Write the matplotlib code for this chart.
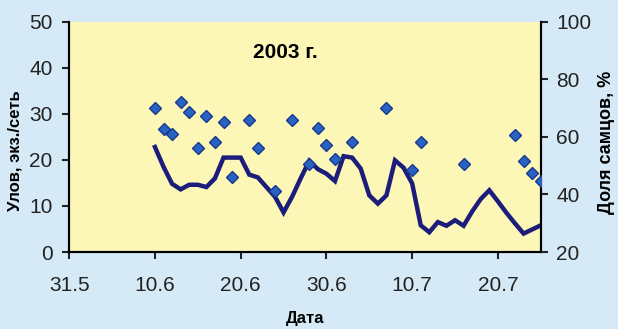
import matplotlib.pyplot as plt

# Данные: день от 31.5 (0 = 31 мая 2003)
catch_days = [10, 11, 12, 13, 14, 15, 16, 17, 18, 19, 20, 21, 22, 23, 24, 25,
              26, 27, 28, 29, 30, 31, 32, 33, 34, 35, 36, 37, 38, 39, 40, 41,
              42, 43, 44, 45, 46, 47, 48, 49, 50, 51, 52, 53, 54, 55]
catch = [22.8, 18.5, 14.8, 13.6, 14.6, 14.6, 14.1, 16.0, 20.5, 20.5, 20.5, 16.8,
         16.2, 14.1, 12.0, 8.6, 12.0, 16.0, 19.8, 18.0, 17.0, 15.4, 20.8, 20.5,
         18.1, 12.3, 10.5, 12.3, 19.9, 18.3, 14.9, 5.8, 4.3, 6.5, 5.7, 6.9,
         5.7, 8.8, 11.5, 13.4, 11.0, 8.5, 6.2, 4.0, 4.9, 5.8]

male_days = [10, 11, 12, 13, 14, 15, 16, 17, 18, 19, 21, 22, 24, 26, 28, 29,
             30, 31, 33, 37, 40, 41, 46, 52, 53, 54, 55]
male_share = [69.9, 62.9, 60.9, 72.0, 68.7, 56.0, 67.2, 58.3, 65.0, 46.1, 66.0,
              56.0, 41.1, 66.0, 50.5, 63.1, 57.1, 52.2, 58.3, 70.2, 48.4, 58.3,
              50.5, 60.6, 51.5, 47.6, 44.7]

tick_days = [0, 10, 20, 30, 40, 50]
tick_labels = ['31.5', '10.6', '20.6', '30.6', '10.7', '20.7']

plt.rcParams['font.family'] = ['Liberation Sans', 'DejaVu Sans']

fig = plt.figure(figsize=(6.18, 3.29), dpi=100, facecolor='#d5eaf6')
ax = fig.add_axes([0.112, 0.234, 0.763, 0.70])
ax.set_facecolor('#fcf7b6')

ax.plot(catch_days, catch, color='#1c1c7a', linewidth=3.2, solid_joinstyle='miter', zorder=3)
ax.set_xlim(0, 55)
ax.set_ylim(0, 50)
ax.set_yticks(range(0, 51, 10))
ax.set_xticks(tick_days)
ax.set_xticklabels(tick_labels)
ax.set_xlabel('Дата', fontsize=12, fontweight='bold', labelpad=12)
ax.set_ylabel('Улов, экз./сеть', fontsize=12, fontweight='bold')
ax.yaxis.set_label_coords(-0.10, 0.44)
ax.text(25.2, 43.3, '2003 г.', fontsize=15, fontweight='bold', ha='center', va='center')

ax2 = ax.twinx()
ax2.plot(male_days, male_share, linestyle='none', marker='D', markersize=6,
         markerfacecolor='#2a62c4', markeredgecolor='#173a8c', markeredgewidth=1, zorder=4)
ax2.set_ylim(20, 100)
ax2.set_yticks(range(20, 101, 20))
ax2.set_ylabel('Доля самцов, %', fontsize=13, fontweight='bold')
ax2.yaxis.set_label_coords(1.122, 0.476)

for a in (ax, ax2):
    a.spines['top'].set_visible(False)
    for s in ('left', 'right', 'bottom'):
        a.spines[s].set_linewidth(1.5)
    a.tick_params(labelsize=15, length=5, width=1.5, colors='#222222')

ax.tick_params(axis='x', pad=12)
ax.tick_params(axis='y', pad=7)
ax2.tick_params(axis='y', pad=6)

ax2.set_zorder(ax.get_zorder() + 1)
ax2.patch.set_visible(False)

fig.savefig('out.png', dpi=100, facecolor=fig.get_facecolor())
